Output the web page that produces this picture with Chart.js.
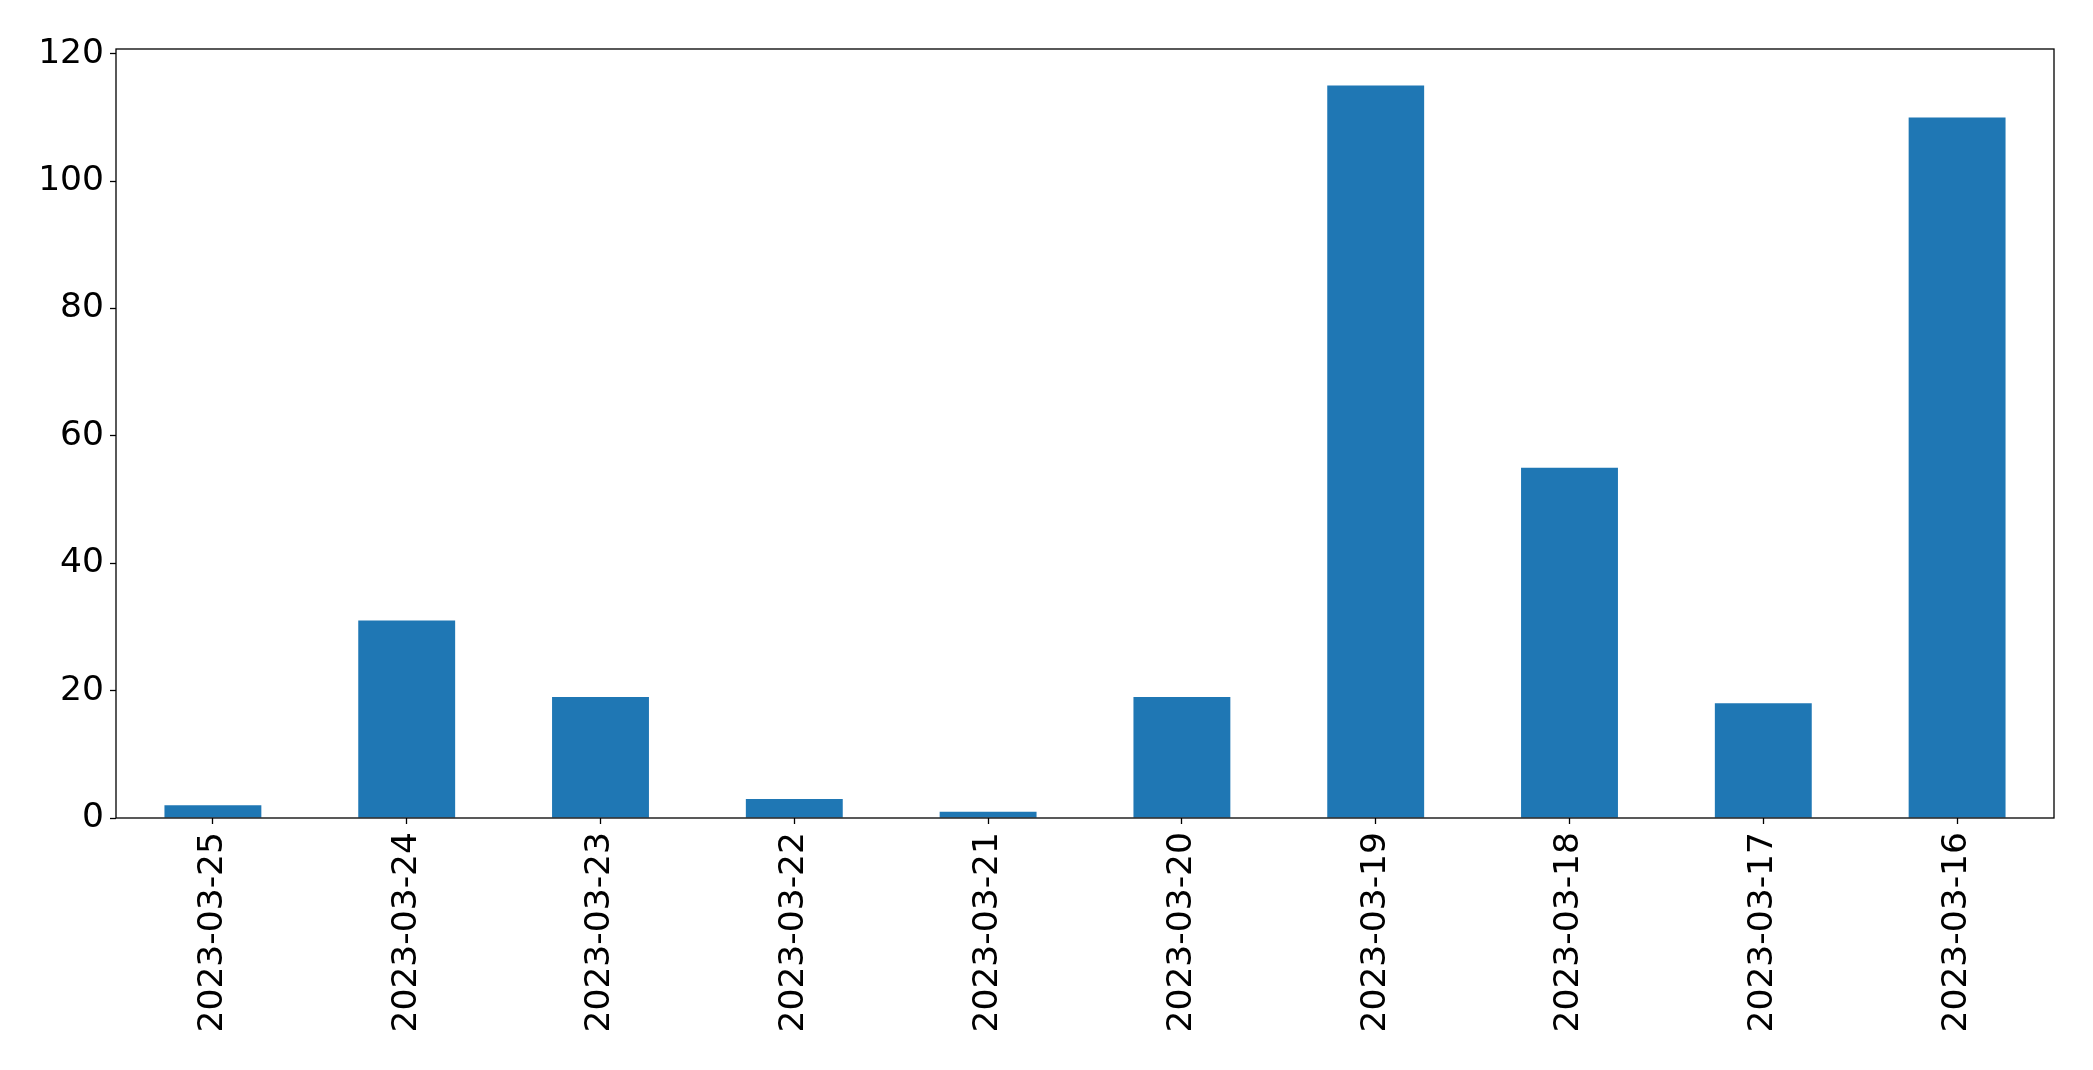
<!DOCTYPE html>
<html>
<head>
<meta charset="utf-8">
<script src="https://cdn.jsdelivr.net/npm/chart.js@4.4.0/dist/chart.umd.min.js"></script>
<style>
  html, body { margin: 0; padding: 0; background: #fff; }
  canvas { display: block; }
</style>
</head>
<body>
<canvas id="dateChart" width="2093" height="1070"></canvas>
<script>
const dates = ['2023-03-25', '2023-03-24', '2023-03-23', '2023-03-22', '2023-03-21',
               '2023-03-20', '2023-03-19', '2023-03-18', '2023-03-17', '2023-03-16'];
const counts = [2, 31, 19, 3, 1, 19, 115, 55, 18, 110];
const yTicks = [0, 20, 40, 60, 80, 100, 120];

// full box around the plot area, like matplotlib spines
const frameBox = {
    id: 'frameBox',
    afterDraw(chart) {
        const a = chart.chartArea;
        const ctx = chart.ctx;
        ctx.save();
        ctx.strokeStyle = '#000';
        ctx.lineWidth = 1.3;
        ctx.strokeRect(a.left, a.top, a.right - a.left, a.bottom - a.top);
        ctx.restore();
    }
};

const canvas = document.getElementById('dateChart');
const chart = new Chart(canvas, {
    type: 'bar',
    data: {
        labels: dates,
        datasets: [{
            data: counts,
            backgroundColor: '#1f77b4',
            borderWidth: 0,
            categoryPercentage: 1.0,
            barPercentage: 0.5
        }]
    },
    options: {
        responsive: false,
        animation: false,
        layout: { padding: { top: 49, right: 39, left: 0, bottom: 0 } },
        plugins: {
            legend: { display: false },
            tooltip: { enabled: false }
        },
        scales: {
            x: {
                offset: true,
                grid: { display: true, offset: false, drawOnChartArea: false, color: '#000', tickLength: 6, tickWidth: 1.3 },
                border: { display: false },
                ticks: {
                    color: '#000',
                    font: { family: 'DejaVu Sans', size: 34.5 },
                    minRotation: 90,
                    maxRotation: 90,
                    autoSkip: false,
                    padding: 8
                },
                afterFit(scale) { scale.height = 252; }
            },
            y: {
                min: 0,
                max: 120.75,
                grid: { display: true, drawOnChartArea: false, color: '#000', tickLength: 6, tickWidth: 1.3 },
                border: { display: false },
                afterBuildTicks(scale) {
                    scale.ticks = yTicks.map(v => ({ value: v }));
                },
                ticks: {
                    color: '#000',
                    font: { family: 'DejaVu Sans', size: 34.5 },
                    padding: 6
                },
                afterFit(scale) { scale.width = 116; }
            }
        }
    },
    plugins: [frameBox]
});
</script>
</body>
</html>
